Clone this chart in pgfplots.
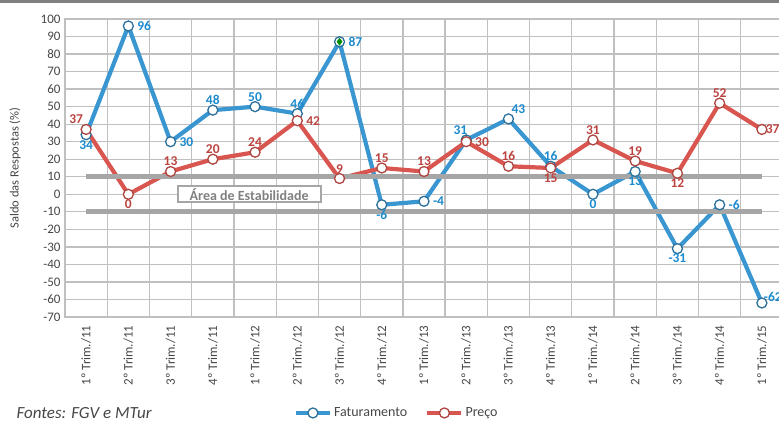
\documentclass[border=0pt]{standalone}
\usepackage{pgfplots}
\pgfplotsset{compat=1.18}
\usepackage{fontspec}
\setmainfont{Carlito}

\definecolor{fatline}{RGB}{58,150,208}
\definecolor{fatlab}{RGB}{28,138,206}
\definecolor{preline}{RGB}{217,86,80}
\definecolor{prelab}{RGB}{188,68,64}
\definecolor{gridc}{RGB}{192,192,192}
\definecolor{stab}{RGB}{166,166,166}
\definecolor{txt}{RGB}{70,70,70}

\pgfplotsset{
  lab/.style={forget plot, draw=none, mark=none, point meta=explicit symbolic,
    nodes near coords, every node near coord/.append style={anchor=#1}},
}

\begin{document}
\begin{tikzpicture}
\begin{axis}[
  scale only axis, width=718pt, height=298pt,
  at={(65pt,105pt)}, anchor=south west,
  xmin=-0.5, xmax=16.5, ymin=-70, ymax=100,
  ytick={-70,-60,...,100},
  xtick={0,...,16},
  xticklabels={1º Trim./11,2º Trim./11,3º Trim./11,4º Trim./11,
    1º Trim./12,2º Trim./12,3º Trim./12,4º Trim./12,
    1º Trim./13,2º Trim./13,3º Trim./13,4º Trim./13,
    1º Trim./14,2º Trim./14,3º Trim./14,4º Trim./14,1º Trim./15},
  minor xtick={-0.5,0.5,...,16.5},
  xminorgrids, ymajorgrids,
  major tick length=0pt, minor tick length=0pt,
  grid style={line width=1.3pt, gridc},
  minor grid style={line width=1.3pt, gridc},
  axis line style={line width=1.3pt, gridc},
  /pgf/number format/assume math mode=true,
  yticklabel style={font=\fontsize{13}{13}\selectfont, text=txt, xshift=-1pt},
  xticklabel style={rotate=90, anchor=east, font=\fontsize{13}{13}\selectfont, text=txt, xshift=-5pt},
  clip=false,
  legend style={at={(0.462,-0.322)}, anchor=center, draw=none, fill=none,
    legend columns=2, font=\fontsize{14}{14}\selectfont\color{txt},
    /tikz/every even column/.append style={column sep=16pt}},
  legend image code/.code={\draw[mark repeat=2,mark phase=2,#1] plot coordinates {(0pt,0pt)(17pt,0pt)(34pt,0pt)};},
  nodes near coords style={font=\fontsize{13.5}{13.5}\selectfont\bfseries, inner sep=1pt,
    outer xsep=8pt, outer ysep=4.5pt},
]
\addplot[line width=4.2pt, fatline, mark=*, mark size=5pt,
  mark options={line width=1.3pt, fill=white, draw=fatline!75!black}]
  coordinates {(0,34)(1,96)(2,30)(3,48)(4,50)(5,46)(6,87)(7,-6)(8,-4)
    (9,31)(10,43)(11,16)(12,0)(13,13)(14,-31)(15,-6)(16,-62)};
\addlegendentry{Faturamento}
\addplot[line width=4.2pt, preline, mark=*, mark size=5pt,
  mark options={line width=1.3pt, fill=white, draw=preline!80!black}]
  coordinates {(0,37)(1,0)(2,13)(3,20)(4,24)(5,42)(6,9)(7,15)(8,13)
    (9,30)(10,16)(11,15)(12,31)(13,19)(14,12)(15,52)(16,37)};
\addlegendentry{Preço}
\addplot[forget plot, only marks, mark=diamond*, mark size=3.5pt, color=green!55!black]
  coordinates {(6,87)};
% value labels, Faturamento
\addplot[lab=90, every node near coord/.append style={text=fatlab}]
  coordinates {(0,34)[34] (7,-6)[-6] (12,0)[0] (13,13)[13] (14,-31)[-31]};
\addplot[lab=180, every node near coord/.append style={text=fatlab}]
  coordinates {(1,96)[96] (2,30)[30] (6,87)[87] (8,-4)[-4] (15,-6)[-6]};
\addplot[lab=-90, every node near coord/.append style={text=fatlab}]
  coordinates {(3,48)[48] (4,50)[50] (5,46)[46] (11,16)[16]};
\addplot[lab=-60, every node near coord/.append style={text=fatlab}]
  coordinates {(9,31)[31]};
\addplot[lab=-135, every node near coord/.append style={text=fatlab}]
  coordinates {(10,43)[43]};
\addplot[lab=-150, every node near coord/.append style={text=fatlab, outer xsep=1pt}]
  coordinates {(16,-62)[-62]};
% value labels, Preco
\addplot[lab=-45, every node near coord/.append style={text=prelab}]
  coordinates {(0,37)[37]};
\addplot[lab=90, every node near coord/.append style={text=prelab}]
  coordinates {(1,0)[0] (11,15)[15] (14,12)[12]};
\addplot[lab=-90, every node near coord/.append style={text=prelab}]
  coordinates {(2,13)[13] (3,20)[20] (4,24)[24] (6,9)[9] (7,15)[15] (8,13)[13]
    (10,16)[16] (12,31)[31] (13,19)[19] (15,52)[52]};
\addplot[lab=180, every node near coord/.append style={text=prelab}]
  coordinates {(5,42)[42] (9,30)[30]};
\addplot[lab=180, every node near coord/.append style={text=prelab, outer xsep=3pt}]
  coordinates {(16,37)[37]};
% stability band
\addplot[forget plot, line width=5pt, stab] coordinates {(0,10) (16,10)};
\addplot[forget plot, line width=5pt, stab] coordinates {(0,-10) (16,-10)};
\node[draw=stab, line width=1.8pt, fill=white, minimum width=143pt, minimum height=16pt,
  inner sep=0pt, text=gray, font=\fontsize{14}{14}\selectfont\bfseries] at (axis cs:3.86,0) {Área de Estabilidade};
\end{axis}
\node[rotate=90, text=txt, font=\fontsize{12.5}{13}\selectfont] at (15pt,254pt) {Saldo das Respostas (\%)};
\node[anchor=west, text=txt, font=\fontsize{17}{17}\selectfont\itshape] at (13pt,9pt) {Fontes: FGV e MTur};
\draw[line width=3pt, gray] (0pt,420.5pt) -- (779pt,420.5pt);
\pgfresetboundingbox
\path[use as bounding box] (0pt,0pt) rectangle (779pt,422pt);
\end{tikzpicture}
\end{document}
